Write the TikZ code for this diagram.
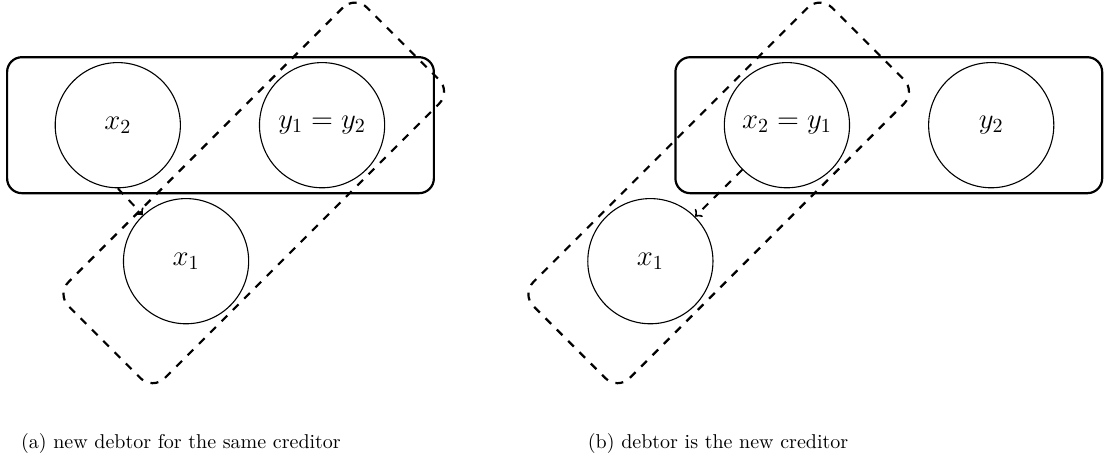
\documentclass[tikz,border=0pt]{standalone}
\begin{document}
\begin{tikzpicture}[auto,
    elem/.style={circle, draw, line width=0.55pt, minimum size=2.2cm, font=\Large},
    group/.style={draw, rounded corners=0.26cm, line width=1.1pt, minimum width=7.5cm, minimum height=2.39cm},
    pair/.style={draw, dash pattern=on 4pt off 4pt, rounded corners=0.3cm, line width=1.1pt, rotate=45, minimum width=7.42cm, minimum height=2.39cm},
    link/.style={->, dash pattern=on 4pt off 4pt, line width=1pt}]
    \useasboundingbox (0,0) rectangle (19.49,-8.17);
    % (a) new debtor for the same creditor
    \node[elem] (ax2) at (2.07,-2.2) {$x_2$};
    \node[elem] (ay) at (5.66,-2.2) {$y_1 = y_2$};
    \node[elem] (ax1) at (3.27,-4.59) {$x_1$};
    \node[group] (acred) at (3.875,-2.2) {};
    \node[pair] (adebt) at (4.46,-3.39) {};
    \draw[link] (ax2.south) -- (ax1);
    \node (acap) at (3.18,-7.8) {(a) new debtor for the same creditor};
    % (b) debtor is the new creditor
    \node[elem] (bx2) at (13.83,-2.2) {$x_2 = y_1$};
    \node[elem] (by2) at (17.42,-2.2) {$y_2$};
    \node[elem] (bx1) at (11.43,-4.59) {$x_1$};
    \node[group] (bcred) at (15.62,-2.2) {};
    \node[pair] (bdebt) at (12.63,-3.39) {};
    \draw[link] (bx2) -- (bx1);
    \node (bcap) at (12.62,-7.8) {(b) debtor is the new creditor};
\end{tikzpicture}
\end{document}
